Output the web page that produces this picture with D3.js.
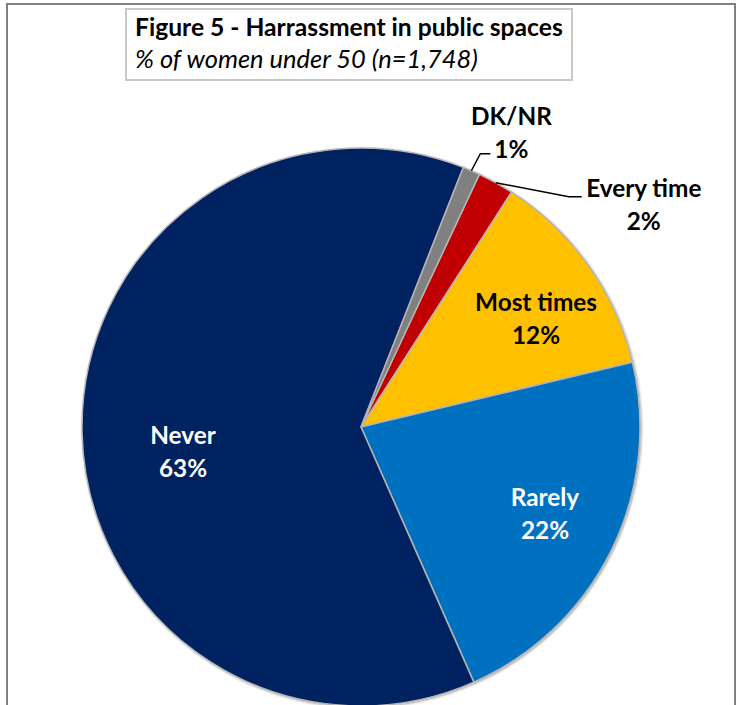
<!DOCTYPE html>
<html>
<head>
<meta charset="utf-8">
<script src="https://cdn.jsdelivr.net/npm/d3@7"></script>
<style>
  html, body { margin: 0; padding: 0; background: #fff; }
  svg { display: block; }
  text { font-family: Lato, "Open Sans", sans-serif; }
</style>
</head>
<body>
<script>
// ---- data ----
const categories = ["Every time", "Most times", "Rarely", "Never", "DK/NR"];
const values = [2.1, 12.2, 22.1, 62.6, 1.0];
const colors = ["#C00000", "#FFC000", "#0070C0", "#002060", "#808080"];
const labelColors = ["#000", "#000", "#fff", "#fff", "#000"];
const title = "Figure 5 - Harrassment in public spaces";
const subtitle = "% of women under 50 (n=1,748)";

const W = 737, H = 705;
const cx = 361, cy = 427, R = 279;

const svg = d3.select("body").append("svg").attr("width", W).attr("height", H);

// outer frame
svg.append("path")
  .attr("d", `M7,${H + 5} V4 H735 V${H + 5}`)
  .attr("fill", "none").attr("stroke", "#808080").attr("stroke-width", 2);

// title box
svg.append("rect").attr("x", 126).attr("y", 9).attr("width", 446).attr("height", 71)
  .attr("fill", "#fff").attr("stroke", "#c8c8c8").attr("stroke-width", 2);

function fitText(sel, target) {
  const w = sel.node().getComputedTextLength();
  const fs = parseFloat(sel.attr("font-size"));
  sel.attr("font-size", fs * target / w);
  return fs * target / w;
}

const t1 = svg.append("text").attr("x", 135).attr("y", 36)
  .attr("font-size", 21).attr("font-weight", "bold").attr("fill", "#000").text(title);
fitText(t1, 428);
const t2 = svg.append("text").attr("x", 135).attr("y", 68)
  .attr("font-size", 21).attr("font-style", "italic").attr("fill", "#000").text(subtitle);
fitText(t2, 343);

// pie
const defs = svg.append("defs");
const f = defs.append("filter").attr("id", "sh").attr("x", "-10%").attr("y", "-10%").attr("width", "120%").attr("height", "120%");
f.append("feDropShadow").attr("dx", 1).attr("dy", 1).attr("stdDeviation", 1).attr("flood-color", "#000").attr("flood-opacity", 0.35);

const start = 25.1 * Math.PI / 180;
const pie = d3.pie().sort(null).value(d => d).startAngle(start).endAngle(start + 2 * Math.PI);
const arcs = pie(values);
const arc = d3.arc().innerRadius(0).outerRadius(R);

const g = svg.append("g").attr("transform", `translate(${cx},${cy})`);
g.append("g").attr("filter", "url(#sh)")
  .selectAll("path").data(arcs).join("path")
  .attr("d", arc)
  .attr("fill", (d, i) => colors[i])
  .attr("stroke", "#b4b4b4").attr("stroke-width", 1.5).attr("stroke-linejoin", "round");

const fmt = v => Math.round(v) + "%";

// label font size matched to the reference width of "Most times"
const probe = svg.append("text").attr("font-size", 20).attr("font-weight", "bold").text(categories[1]);
const FS = fitText(probe, 122);
probe.remove();
const LH = 33;

function twoLine(x, y, i) {
  const t = g.append("text").attr("text-anchor", "middle")
    .attr("font-size", FS).attr("font-weight", "bold").attr("fill", labelColors[i]);
  t.append("tspan").attr("x", x).attr("y", y).text(categories[i]);
  t.append("tspan").attr("x", x).attr("y", y + LH).text(fmt(values[i]));
  return t;
}

// inside labels (layout: radius fraction + pixel nudge, Excel best-fit look)
const insideR = [null, 0.73, 0.73, 0.64, null];
const nudge = [null, [9, 2], [1.5, -11.5], [0.5, 13.3], null];
arcs.forEach((d, i) => {
  if (!insideR[i]) return;
  const a = (d.startAngle + d.endAngle) / 2;
  const r = R * insideR[i];
  const x = r * Math.sin(a), y = -r * Math.cos(a);
  twoLine(x + nudge[i][0], y + nudge[i][1], i);
});

// outside labels with leader lines
function pt(a, r) { return [r * Math.sin(a), -r * Math.cos(a)]; }
// DK/NR (index 4)
{
  const d = arcs[4];
  const a = (d.startAngle + d.endAngle) / 2;
  const p0 = pt(a, R);
  const p1 = [p0[0] + 9, p0[1] - 17];
  const p2 = [p1[0] + 10, p1[1]];
  g.append("polyline").attr("points", [p0, p1, p2].map(p => p.join(",")).join(" "))
    .attr("fill", "none").attr("stroke", "#000").attr("stroke-width", 1.5);
  twoLine(p2[0] + 21, p2[1] - 29, 4);
}
// Every time (index 0)
{
  const d = arcs[0];
  const a = (d.startAngle + d.endAngle) / 2;
  const p0 = pt(a, R);
  const p1 = [p0[0] + 73, p0[1] + 14];
  const p2 = [p1[0] + 13, p1[1]];
  g.append("polyline").attr("points", [p0, p1, p2].map(p => p.join(",")).join(" "))
    .attr("fill", "none").attr("stroke", "#000").attr("stroke-width", 1.5);
  twoLine(p2[0] + 62, p2[1] + 0, 0);
}
</script>
</body>
</html>
